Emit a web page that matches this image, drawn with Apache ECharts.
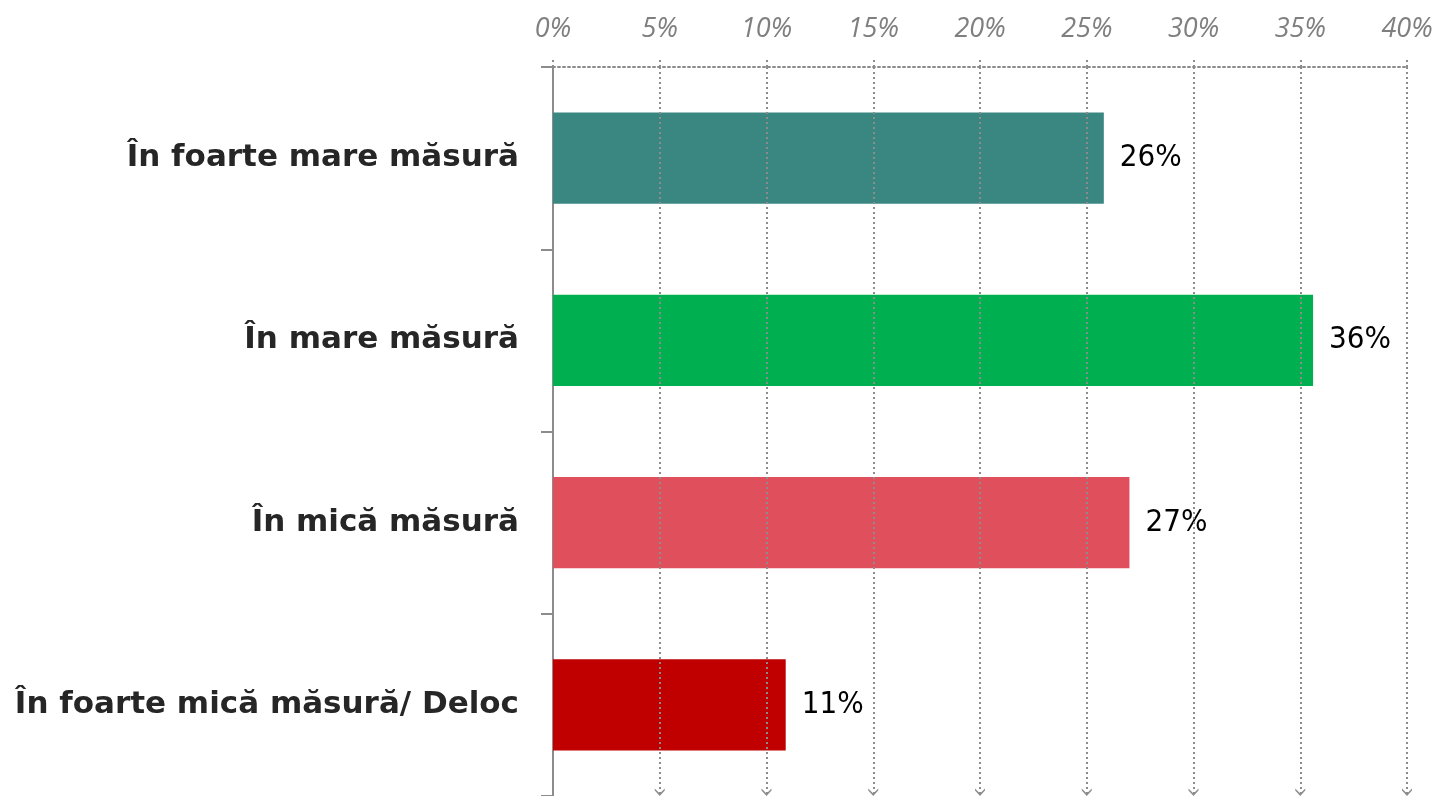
<!DOCTYPE html>
<html>
<head>
<meta charset="utf-8">
<script src="https://cdn.jsdelivr.net/npm/echarts@6/dist/echarts.min.js"></script>
<style>
  html, body { margin: 0; padding: 0; background: #fff; }
  #chart { width: 1439px; height: 796px; }
</style>
</head>
<body>
<div id="chart"></div>
<script>
// categorii (de sus in jos)
var categories = ['În foarte mare măsură', 'În mare măsură', 'În mică măsură', 'În foarte mică măsură/ Deloc'];
var values = [25.8, 35.6, 27.0, 10.9];
var barColors = ['#3A8782', '#00AF50', '#E0505C', '#C00000'];
// liniile de grila cu sageata jos
var gridTicks = [5, 10, 15, 20, 25, 30, 35, 40];

var myChart = echarts.init(document.getElementById('chart'));

// chevron deschis; punctul gol de sus muta varful in centrul simbolului
var chevron = 'path://M5,-7.5 L5,-7.5 Z M5,0 L10,5.5 L10,7.5 L5,2.5 L0,7.5 L0,5.5 Z';

var barData = [];
for (var i = 0; i < values.length; i++) {
  barData.push({ value: values[i], itemStyle: { color: barColors[i] } });
}
var lines = [];
for (var j = 0; j < gridTicks.length; j++) {
  lines.push({ xAxis: gridTicks[j] });
}

var dotted = { color: '#8c8c8c', type: [2, 3], width: 2 };

var option = {
  animation: false,
  grid: { left: 553, right: 32, top: 67, height: 729 },
  xAxis: {
    type: 'value',
    position: 'top',
    min: 0,
    max: 40,
    interval: 5,
    axisLine: { show: true, lineStyle: dotted },
    axisTick: { show: true, inside: false, length: 10, lineStyle: dotted },
    splitLine: { show: false },
    axisLabel: {
      formatter: '{value}%',
      margin: 24,
      color: '#7f7f7f',
      fontSize: 27,
      fontStyle: 'italic',
      fontFamily: 'Open Sans'
    }
  },
  yAxis: {
    type: 'category',
    inverse: true,
    data: categories,
    axisLine: { show: true, lineStyle: { color: '#8c8c8c', width: 2 } },
    axisTick: { show: true, length: 12, lineStyle: { color: '#8c8c8c', width: 2 } },
    axisLabel: {
      margin: 34,
      color: '#262626',
      fontSize: 31,
      fontWeight: 'bold',
      fontFamily: 'DejaVu Sans'
    }
  },
  series: [{
    type: 'bar',
    data: barData,
    barWidth: '50%',
    label: {
      show: true,
      position: 'right',
      distance: 16,
      color: '#000',
      fontSize: 31,
      fontFamily: 'DejaVu Sans Condensed',
      formatter: function (p) { return Math.round(p.value) + '%'; }
    },
    markLine: {
      silent: true,
      symbol: ['none', chevron],
      symbolSize: [10, 15],
      label: { show: false },
      lineStyle: dotted,
      data: lines
    }
  }]
};
myChart.setOption(option);
</script>
</body>
</html>
